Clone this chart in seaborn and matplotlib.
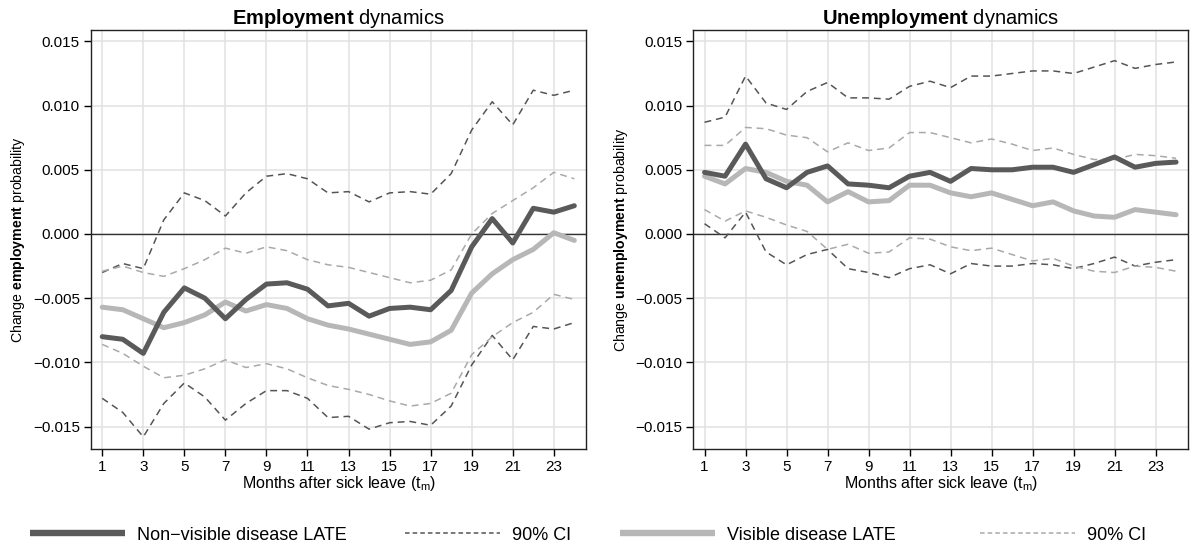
import numpy as np
import pandas as pd
import matplotlib
matplotlib.use("Agg")
import matplotlib.pyplot as plt
import seaborn as sns
from matplotlib.lines import Line2D

sns.set_theme(style="white")
plt.rcParams["font.family"] = ["Liberation Sans", "DejaVu Sans"]
plt.rcParams["mathtext.fontset"] = "custom"
plt.rcParams["mathtext.rm"] = "Liberation Sans"
plt.rcParams["mathtext.bf"] = "Liberation Sans:bold"
plt.rcParams["mathtext.it"] = "Liberation Sans:italic"
for key in ["text.color", "axes.labelcolor", "xtick.color", "ytick.color"]:
    plt.rcParams[key] = "black"

months = list(range(1, 25))
xticks = list(range(1, 24, 2))
yticks = [-0.015, -0.010, -0.005, 0.000, 0.005, 0.010, 0.015]

# Employment: non-visible disease
emp_nv = [-0.0080, -0.0082, -0.0093, -0.0061, -0.0042, -0.0050, -0.0066, -0.0051,
          -0.0039, -0.0038, -0.0043, -0.0056, -0.0054, -0.0064, -0.0058, -0.0057,
          -0.0059, -0.0044, -0.0010, 0.0012, -0.0007, 0.0020, 0.0017, 0.0022]
emp_nv_hi = [-0.0030, -0.0023, -0.0027, 0.0011, 0.0032, 0.0026, 0.0014, 0.0032,
             0.0045, 0.0047, 0.0043, 0.0032, 0.0033, 0.0025, 0.0032, 0.0033,
             0.0031, 0.0047, 0.0081, 0.0103, 0.0085, 0.0112, 0.0108, 0.0112]
emp_nv_lo = [-0.0128, -0.0139, -0.0158, -0.0132, -0.0116, -0.0127, -0.0145, -0.0132,
             -0.0122, -0.0122, -0.0128, -0.0143, -0.0142, -0.0152, -0.0147, -0.0146,
             -0.0149, -0.0134, -0.0102, -0.0079, -0.0098, -0.0072, -0.0074, -0.0069]
# Employment: visible disease
emp_v = [-0.0057, -0.0059, -0.0066, -0.0073, -0.0069, -0.0063, -0.0053, -0.0060,
         -0.0055, -0.0058, -0.0066, -0.0071, -0.0074, -0.0078, -0.0082, -0.0086,
         -0.0084, -0.0075, -0.0046, -0.0031, -0.0020, -0.0012, 0.0001, -0.0005]
emp_v_hi = [-0.0029, -0.0025, -0.0030, -0.0033, -0.0027, -0.0020, -0.0011, -0.0015,
            -0.0010, -0.0013, -0.0020, -0.0024, -0.0026, -0.0030, -0.0034, -0.0038,
            -0.0036, -0.0028, 0.0000, 0.0016, 0.0026, 0.0036, 0.0048, 0.0043]
emp_v_lo = [-0.0086, -0.0093, -0.0103, -0.0112, -0.0110, -0.0105, -0.0098, -0.0104,
            -0.0101, -0.0105, -0.0112, -0.0118, -0.0121, -0.0125, -0.0130, -0.0134,
            -0.0132, -0.0124, -0.0094, -0.0080, -0.0069, -0.0061, -0.0047, -0.0051]

# Unemployment: non-visible disease
unemp_nv = [0.0048, 0.0045, 0.0070, 0.0043, 0.0036, 0.0048, 0.0053, 0.0039,
            0.0038, 0.0036, 0.0045, 0.0048, 0.0041, 0.0051, 0.0050, 0.0050,
            0.0052, 0.0052, 0.0048, 0.0054, 0.0060, 0.0052, 0.0055, 0.0056]
unemp_nv_hi = [0.0087, 0.0091, 0.0123, 0.0102, 0.0097, 0.0111, 0.0118, 0.0106,
               0.0106, 0.0105, 0.0115, 0.0119, 0.0114, 0.0123, 0.0123, 0.0125,
               0.0127, 0.0127, 0.0125, 0.0130, 0.0135, 0.0129, 0.0132, 0.0134]
unemp_nv_lo = [0.0008, -0.0003, 0.0017, -0.0014, -0.0024, -0.0016, -0.0012, -0.0027,
               -0.0030, -0.0034, -0.0027, -0.0024, -0.0031, -0.0023, -0.0025, -0.0025,
               -0.0023, -0.0024, -0.0027, -0.0023, -0.0018, -0.0025, -0.0022, -0.0020]
# Unemployment: visible disease
unemp_v = [0.0045, 0.0039, 0.0051, 0.0048, 0.0041, 0.0038, 0.0025, 0.0033,
           0.0025, 0.0026, 0.0038, 0.0038, 0.0032, 0.0029, 0.0032, 0.0027,
           0.0022, 0.0025, 0.0018, 0.0014, 0.0013, 0.0019, 0.0017, 0.0015]
unemp_v_hi = [0.0069, 0.0069, 0.0083, 0.0082, 0.0077, 0.0075, 0.0064, 0.0071,
              0.0065, 0.0067, 0.0079, 0.0079, 0.0075, 0.0071, 0.0074, 0.0070,
              0.0065, 0.0067, 0.0062, 0.0058, 0.0058, 0.0062, 0.0061, 0.0059]
unemp_v_lo = [0.0019, 0.0010, 0.0018, 0.0013, 0.0007, 0.0002, -0.0012, -0.0008,
              -0.0015, -0.0014, -0.0003, -0.0004, -0.0010, -0.0013, -0.0011, -0.0016,
              -0.0021, -0.0019, -0.0025, -0.0029, -0.0030, -0.0025, -0.0026, -0.0029]

legend_labels = ["Non\u2212visible disease LATE", "90% CI", "Visible disease LATE", "90% CI"]

DARK = "#5a5a5a"
LIGHT = "#b7b7b7"
DARK_CI = "#555555"
LIGHT_CI = "#a9a9a9"
DASH = (4.5, 3.2)

W, H = 1192, 549
fig = plt.figure(figsize=(W / 100, H / 100), dpi=100)
ax1 = fig.add_axes([0.0763, 0.1816, 0.4155, 0.7638])
ax2 = fig.add_axes([0.5816, 0.1816, 0.4150, 0.7638])


def draw_panel(ax, nv, nv_hi, nv_lo, v, v_hi, v_lo, title_word, ylabel_word):
    ax.set_xticks(xticks)
    ax.set_yticks(yticks)
    ax.grid(True, color="#e1e1e1", linewidth=1.1, zorder=0)
    ax.set_axisbelow(True)
    ax.axhline(0, color="#333333", linewidth=1.0, zorder=1)
    for series, col in [(nv_hi, DARK_CI), (nv_lo, DARK_CI), (v_hi, LIGHT_CI), (v_lo, LIGHT_CI)]:
        sns.lineplot(x=months, y=series, ax=ax, color=col, linewidth=1.1,
                     dashes=False, zorder=2).lines[-1].set_dashes(DASH)
    sns.lineplot(x=months, y=v, ax=ax, color=LIGHT, linewidth=3.6, zorder=3)
    sns.lineplot(x=months, y=nv, ax=ax, color=DARK, linewidth=3.6, zorder=4)
    ax.set_xlim(0.45, 24.58)
    ax.set_ylim(-0.01677, 0.01589)
    ax.set_yticklabels([f"{t:.3f}".replace("-", "\u2212") for t in yticks])
    ax.tick_params(axis="both", direction="out", length=5, width=1, color="black",
                   labelcolor="black", labelsize=11, pad=3, bottom=True, left=True)
    for s in ax.spines.values():
        s.set_color("#222222")
        s.set_linewidth(1.0)
    ax.set_title(r"$\mathbf{" + title_word + r"}$ dynamics", fontsize=14.5, pad=4.5,
                 color="black")
    ax.set_xlabel(r"Months after sick leave (t$_{\mathrm{m}}$)", fontsize=11.5, labelpad=0)
    ax.set_ylabel(r"Change $\mathbf{" + ylabel_word + r"}$ probability", fontsize=10.2, labelpad=4)


draw_panel(ax1, emp_nv, emp_nv_hi, emp_nv_lo, emp_v, emp_v_hi, emp_v_lo,
           "Employment", "employment")
draw_panel(ax2, unemp_nv, unemp_nv_hi, unemp_nv_lo, unemp_v, unemp_v_hi, unemp_v_lo,
           "Unemployment", "unemployment")

# Legend row below both panels: one key per entry, laid out left to right
handles = [
    Line2D([], [], color=DARK, linewidth=4.6, solid_capstyle="butt"),
    Line2D([], [], color=DARK_CI, linewidth=1.1, dashes=(3, 2)),
    Line2D([], [], color=LIGHT, linewidth=4.6, solid_capstyle="butt"),
    Line2D([], [], color=LIGHT_CI, linewidth=1.1, dashes=(3, 2)),
]
key_left_px = [30, 405, 620, 980]
for h, lab, xpx in zip(handles, legend_labels, key_left_px):
    fig.legend([h], [lab], loc="center left", bbox_to_anchor=(xpx / W, 1 - 535 / H),
               frameon=False, fontsize=13, handlelength=5.26, handletextpad=0.65,
               borderaxespad=0, borderpad=0, labelcolor="black")

fig.savefig("out.png", dpi=100)
